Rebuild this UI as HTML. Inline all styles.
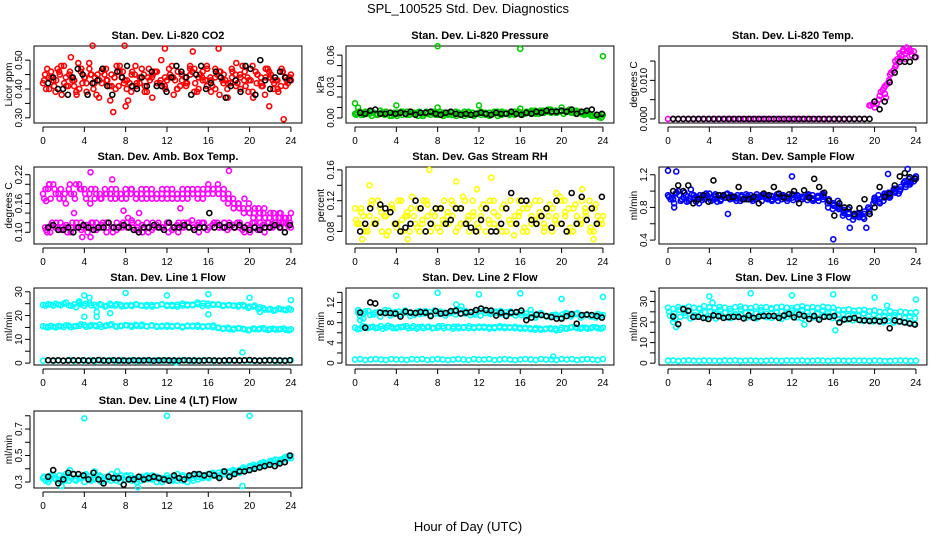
<!DOCTYPE html>
<html><head><meta charset="utf-8"><style>
body{margin:0;background:#fff}
svg{display:block;font-family:"Liberation Sans",sans-serif}
</style></head><body>
<svg id="chart" width="936" height="540" viewBox="0 0 936 540">
<text x="468" y="13" text-anchor="middle" font-size="13">SPL_100525  Std. Dev. Diagnostics</text>
<text x="468" y="531" text-anchor="middle" font-size="13">Hour of Day (UTC)</text>
</svg>
<script>
// ---------- data ----------
const xTicks=[0,4,8,12,16,20,24];
const co2A=[0.42,0.47,0.44,0.39,0.45,0.48,0.41,0.43,0.38,0.46,0.44,0.49,0.40,0.45,0.42,0.47,0.36,0.44,0.41,0.46,0.43,0.39,0.48,0.42,0.45,0.44,0.37,0.46,0.43,0.41,0.47,0.44,0.40,0.45,0.42,0.48,0.39,0.44,0.46,0.41,0.43,0.47,0.38,0.45,0.42,0.44,0.49,0.40,0.46,0.43,0.37,0.45,0.41,0.47,0.44,0.42,0.39,0.46,0.43,0.45];
const co2B=[0.45,0.40,0.43,0.47,0.38,0.44,0.46,0.41,0.49,0.42,0.39,0.45,0.44,0.37,0.47,0.43,0.45,0.40,0.48,0.42,0.36,0.46,0.41,0.44,0.39,0.47,0.45,0.42,0.50,0.40,0.44,0.38,0.46,0.43,0.41,0.45,0.47,0.40,0.43,0.48,0.39,0.44,0.46,0.42,0.37,0.47,0.41,0.45,0.43,0.39,0.48,0.42,0.44,0.38,0.46,0.40,0.43,0.47,0.41,0.44];
const co2C=[0.43,0.44,0.41,0.46,0.42,0.45,0.43,0.40,0.44,0.47,0.42,0.43,0.45,0.41,0.44,0.46,0.43,0.42,0.45,0.44,0.41,0.43,0.46,0.42,0.44,0.45,0.43,0.41,0.44,0.47,0.42,0.45,0.43,0.44,0.40,0.46,0.43,0.42,0.45,0.44,0.41,0.43,0.46,0.42,0.44,0.45,0.43,0.41,0.44,0.43];
const co2D=[0.40,0.46,0.43,0.48,0.41,0.44,0.39,0.47,0.42,0.45,0.38,0.46,0.43,0.41,0.48,0.44,0.40,0.45,0.42,0.47,0.39,0.44,0.46,0.41,0.43,0.48,0.40,0.45,0.42,0.46,0.39,0.44,0.47,0.41,0.45,0.43,0.40,0.46,0.42,0.48,0.44,0.39,0.45,0.41,0.47,0.43,0.40,0.46,0.42];
const co2OutX=[4.8,7.9,11.8,17,6.8,8,23.3,21.9,2.7,14.5];
const co2OutY=[0.55,0.55,0.54,0.54,0.32,0.34,0.295,0.34,0.51,0.53];
const co2Black=[0.42,0.44,0.40,0.40,0.38,0.44,0.47,0.45,0.38,0.42,0.43,0.47,0.41,0.38,0.46,0.44,0.48,0.41,0.40,0.44,0.41,0.46,0.41,0.41,0.39,0.44,0.48,0.46,0.44,0.38,0.45,0.48,0.40,0.42,0.46,0.44,0.37,0.41,0.43,0.39,0.48,0.47,0.38,0.50,0.43,0.40,0.44,0.46,0.44,0.43];

const presA=[0.004,0.006,0.003,0.005,0.002,0.004,0.007,0.003,0.005,0.004,0.002,0.006,0.004,0.003,0.005,0.002,0.004,0.006,0.003,0.005,0.004,0.002,0.005,0.003,0.006,0.004,0.002,0.005,0.003,0.004,0.006,0.003,0.005,0.004,0.002,0.006,0.004,0.005,0.003,0.006,0.004,0.005,0.007,0.004,0.006,0.005,0.008,0.006,0.005,0.007,0.006,0.008,0.005,0.006,0.004,0.005,0.003,0.002,0.001,0.003];
const presB=[0.005,0.003,0.006,0.004,0.005,0.003,0.004,0.006,0.002,0.005,0.004,0.006,0.003,0.005,0.004,0.006,0.002,0.004,0.005,0.003,0.006,0.004,0.003,0.005,0.002,0.004,0.006,0.003,0.005,0.004,0.003,0.005,0.002,0.004,0.006,0.003,0.005,0.004,0.006,0.005,0.003,0.006,0.005,0.007,0.004,0.007,0.006,0.005,0.007,0.006,0.004,0.007,0.006,0.004,0.006,0.003,0.004,0.002,0.003,0.000];
const presC=[0.003,0.005,0.004,0.006,0.003,0.005,0.004,0.002,0.005,0.003,0.006,0.004,0.005,0.002,0.004,0.006,0.003,0.005,0.004,0.003,0.005,0.004,0.006,0.002,0.005,0.004,0.003,0.006,0.004,0.005,0.003,0.006,0.005,0.004,0.006,0.005,0.007,0.006,0.008,0.005,0.007,0.006,0.005,0.007,0.005,0.004,0.002,0.003,0.001];
const presOutX=[0,8,16,24,4,12,8,16,20,0.3];
const presOutY=[0.014,0.0685,0.066,0.059,0.012,0.012,0.010,0.009,0.010,0.010];
const presBlack=[0.005,0.004,0.007,0.008,0.004,0.004,0.005,0.004,0.005,0.004,0.006,0.003,0.005,0.005,0.006,0.004,0.003,0.005,0.006,0.004,0.003,0.004,0.003,0.004,0.005,0.004,0.003,0.005,0.004,0.004,0.006,0.004,0.003,0.005,0.004,0.006,0.005,0.007,0.006,0.006,0.007,0.006,0.008,0.004,0.006,0.007,0.008,0.003,0.004];

const ltempA=[0,0,0,0,0,0,0,0,0,0,0,0,0,0,0,0,0,0,0,0,0,0,0,0,0,0,0,0,0,0,0,0,0,0,0,0,0,0,0,0.0035,0.0045,0.006,0.0085,0.0115,0.0135,0.0155,0.017,0.0175,0.016];
const ltempRampX=[19.6,19.8,20.0,20.2,20.4,20.6,20.8,21.0,21.2,21.4,21.6,21.8,22.0,22.2,22.4,22.6,22.8,23.0,23.2,23.4,23.6,23.8,21.1,22.1,20.9,23.1,22.7];
const ltempRampY=[0.0035,0.0038,0.003,0.004,0.005,0.007,0.0075,0.0065,0.009,0.01,0.012,0.0125,0.015,0.0155,0.017,0.0165,0.018,0.0155,0.0175,0.018,0.0165,0.0175,0.0055,0.014,0.008,0.0185,0.0175];
const ltempBlack=[0,0,0,0,0,0,0,0,0,0,0,0,0,0,0,0,0,0,0,0,0,0,0,0,0,0,0,0,0,0,0,0,0,0,0,0,0,0,0,0,0.0045,0.0025,0.0045,0.0095,0.012,0.0148,0.0148,0.0148,0.016];

const ambUpA=[0.18,0.19,0.20,0.18,0.17,0.19,0.18,0.20,0.19,0.18,0.17,0.18,0.19,0.18,0.17,0.18,0.19,0.18,0.17,0.18,0.19,0.18,0.17,0.18,0.18,0.19,0.17,0.18,0.19,0.18,0.18,0.19,0.20,0.19,0.18,0.19,0.17,0.16,0.15,0.17,0.14,0.15,0.14,0.13,0.14,0.13,0.14,0.13,0.14];
const ambUpB=[0.19,0.17,0.18,0.19,0.16,0.18,0.20,0.19,0.17,0.19,0.18,0.17,0.18,0.19,0.18,0.17,0.18,0.19,0.18,0.17,0.18,0.17,0.18,0.19,0.17,0.18,0.18,0.17,0.18,0.19,0.17,0.18,0.19,0.18,0.20,0.18,0.16,0.17,0.16,0.15,0.15,0.13,0.15,0.14,0.12,0.14,0.13,0.12,0.13];
const ambUpC=[0.17,0.20,0.19,0.17,0.18,0.20,0.17,0.19,0.18,0.16,0.19,0.17,0.18,0.17,0.19,0.18,0.17,0.19,0.18,0.19,0.17,0.19,0.18,0.17,0.19,0.17,0.18,0.19,0.17,0.18,0.19,0.17,0.18,0.19,0.19,0.17,0.18,0.15,0.16,0.14,0.16,0.14,0.13,0.15,0.13,0.12,0.14,0.13,0.12];
const ambLowA=[0.11,0.10,0.11,0.12,0.11,0.10,0.11,0.12,0.11,0.11,0.12,0.11,0.10,0.11,0.12,0.11,0.11,0.12,0.11,0.10,0.11,0.12,0.11,0.11,0.12,0.11,0.10,0.12,0.11,0.11,0.12,0.12,0.11,0.12,0.11,0.12,0.11,0.11,0.12,0.11,0.10,0.11,0.12,0.11,0.11,0.12,0.11,0.12,0.11];
const ambLowB=[0.10,0.12,0.11,0.11,0.10,0.12,0.11,0.11,0.10,0.12,0.11,0.12,0.11,0.10,0.11,0.12,0.13,0.11,0.12,0.11,0.10,0.11,0.12,0.11,0.10,0.11,0.12,0.11,0.12,0.11,0.10,0.11,0.11,0.12,0.11,0.12,0.12,0.11,0.11,0.10,0.11,0.12,0.11,0.10,0.11,0.12,0.11,0.11,0.12];
const ambLowC=[0.105,0.115,0.12,0.105,0.115,0.11,0.12,0.105,0.115,0.12,0.105,0.115,0.12,0.11,0.105,0.115,0.12,0.125,0.105,0.115,0.12,0.105,0.115,0.11,0.12,0.105,0.115,0.11,0.12,0.125,0.115,0.12,0.105,0.115,0.12,0.11,0.105,0.115,0.12,0.105,0.115,0.12,0.105,0.115,0.12,0.11,0.115,0.12,0.115];
const ambOutX=[4.6,18,7.8,3,0.3,0.6,3.8,4.6,6.7,13.3,9.3];
const ambOutY=[0.225,0.228,0.145,0.14,0.165,0.20,0.09,0.09,0.21,0.15,0.14];
const ambBlack=[0.11,0.115,0.105,0.105,0.11,0.10,0.11,0.115,0.11,0.105,0.11,0.11,0.12,0.11,0.11,0.115,0.11,0.105,0.10,0.11,0.11,0.115,0.11,0.105,0.12,0.11,0.11,0.115,0.11,0.105,0.11,0.11,0.14,0.11,0.115,0.11,0.115,0.11,0.115,0.11,0.105,0.11,0.105,0.11,0.11,0.115,0.11,0.10,0.115];

const rhA=[0.11,0.09,0.10,0.08,0.12,0.09,0.11,0.10,0.08,0.11,0.09,0.12,0.10,0.08,0.10,0.11,0.09,0.12,0.08,0.10,0.11,0.09,0.10,0.12,0.08,0.11,0.09,0.10,0.12,0.08,0.10,0.11,0.09,0.12,0.10,0.08,0.11,0.09,0.10,0.12,0.08,0.11,0.10,0.09,0.12,0.08,0.10,0.11,0.09,0.12,0.10,0.08,0.11,0.09,0.12,0.10,0.08,0.11,0.09,0.10];
const rhB=[0.09,0.11,0.08,0.10,0.09,0.12,0.08,0.10,0.11,0.09,0.12,0.08,0.10,0.11,0.09,0.08,0.12,0.10,0.09,0.11,0.08,0.12,0.09,0.10,0.11,0.09,0.12,0.08,0.10,0.09,0.11,0.08,0.12,0.09,0.10,0.11,0.08,0.12,0.09,0.10,0.11,0.08,0.09,0.12,0.10,0.09,0.11,0.08,0.10,0.09,0.12,0.11,0.08,0.10,0.09,0.11,0.12,0.08,0.10,0.09];
const rhC=[0.095,0.105,0.085,0.115,0.095,0.105,0.075,0.115,0.085,0.095,0.105,0.125,0.085,0.095,0.115,0.105,0.085,0.095,0.105,0.115,0.085,0.125,0.095,0.105,0.085,0.115,0.095,0.105,0.085,0.115,0.095,0.075,0.105,0.085,0.115,0.095,0.105,0.085,0.115,0.095,0.125,0.105,0.085,0.115,0.095,0.105,0.085,0.115,0.095];
const rhOutX=[7.2,1.4,9.8,13.2,5.1,0.7,23.1,22,11.8,19.5];
const rhOutY=[0.16,0.14,0.145,0.15,0.07,0.07,0.07,0.135,0.135,0.13];
const rhBlack=[0.08,0.09,0.11,0.09,0.115,0.11,0.105,0.09,0.08,0.085,0.09,0.12,0.11,0.08,0.09,0.11,0.11,0.09,0.095,0.11,0.11,0.09,0.085,0.08,0.095,0.11,0.08,0.08,0.09,0.11,0.13,0.09,0.12,0.12,0.095,0.09,0.10,0.11,0.085,0.12,0.09,0.08,0.13,0.09,0.125,0.095,0.11,0.09,0.125];

const flowA=[0.95,0.90,1.00,0.92,0.88,0.95,0.85,0.93,0.97,0.90,0.95,0.92,0.90,0.93,0.88,0.92,0.95,0.90,0.93,0.91,0.94,0.92,0.90,0.93,0.95,0.92,0.90,0.93,0.91,0.94,0.90,0.80,0.85,0.82,0.75,0.72,0.70,0.68,0.72,0.75,0.88,0.90,0.92,0.95,0.98,1.02,1.05,1.10,1.15];
const flowB=[0.90,0.97,0.88,0.95,1.02,0.87,0.92,0.97,0.88,0.94,0.90,0.96,0.93,0.88,0.95,0.90,0.92,0.96,0.88,0.94,0.90,0.96,0.93,0.88,0.92,0.95,0.93,0.89,0.95,0.92,0.97,0.85,0.78,0.88,0.70,0.78,0.65,0.73,0.68,0.80,0.85,0.95,0.88,0.98,1.02,0.97,1.10,1.15,1.12];
const flowC=[0.93,0.85,0.95,0.98,0.90,0.92,0.95,0.90,0.92,0.96,0.88,0.92,0.95,0.91,0.93,0.96,0.90,0.93,0.95,0.92,0.88,0.93,0.95,0.91,0.96,0.90,0.93,0.95,0.88,0.92,0.93,0.88,0.82,0.78,0.73,0.68,0.72,0.70,0.75,0.72,0.92,0.85,0.95,0.93,1.00,1.05,1.08,1.12,1.18];
const flowD=[0.92,0.98,0.90,0.87,0.96,0.93,0.89,0.95,0.91,0.87,0.93,0.97,0.91,0.95,0.90,0.94,0.88,0.92,0.96,0.90,0.93,0.88,0.95,0.91,0.89,0.94,0.92,0.96,0.90,0.88,0.95,0.90,0.83,0.80,0.77,0.74,0.69,0.72,0.66,0.78,0.90,0.87,0.97,0.92,1.03,1.00,1.12,1.08,1.16];
const flowOutX=[0,0.8,12,21.3,16,5.8,17.6,19.2,23.2,0.6];
const flowOutY=[1.25,1.24,1.18,1.21,0.41,0.72,0.55,0.55,1.27,0.8];
const flowBlack=[1.0,1.07,1.0,1.07,0.85,0.9,0.95,0.87,1.13,0.95,0.95,0.92,0.93,1.05,0.9,0.9,0.93,0.85,0.97,0.95,1.05,0.97,0.92,0.96,1.0,0.85,1.01,0.92,1.15,1.05,0.98,0.88,0.7,0.85,0.8,0.8,0.72,0.79,0.9,0.72,0.8,1.05,0.93,0.97,1.07,1.18,1.22,1.17,1.15];

const l1TopA=[24.5,24.8,24.2,24.6,25.0,24.3,24.7,25.3,24.1,25.2,24.5,24.8,23.8,25.0,24.2,24.6,24.0,24.4,24.8,24.2,23.9,24.5,24.3,24.7,24.0,24.5,23.8,24.2,24.6,24.3,24.8,25.1,24.2,24.5,24.7,24.3,24.5,24.2,24.4,24.0,23.8,24.2,23.5,22.5,22.8,22.3,22.7,22.2,22.5];
const l1TopB=[24.2,24.6,25.0,24.3,25.5,24.1,23.5,24.8,25.0,24.3,23.8,24.5,24.0,24.4,24.8,23.9,24.3,24.0,24.6,24.1,24.5,23.8,24.2,24.8,24.4,24.0,24.6,25.0,24.2,24.6,25.5,24.0,25.0,24.8,24.6,24.0,24.3,24.1,23.8,24.5,23.2,23.8,22.8,23.1,22.5,22.0,23.0,22.5,23.0];
const l1MidA=[15.5,15.0,15.3,15.6,15.2,15.8,15.4,15.7,16.0,15.5,15.8,16.2,15.6,15.9,15.5,15.7,16.0,15.8,16.1,15.6,15.5,15.9,15.6,15.4,15.3,15.6,15.8,15.4,15.5,15.7,15.3,15.5,15.6,15.8,15.0,14.6,14.3,14.5,14.7,14.2,14.0,14.3,14.5,14.2,14.4,14.1,14.3,14.0,14.2];
const l1MidB=[15.2,15.7,15.0,15.4,15.9,15.1,15.6,16.3,15.3,16.0,15.5,15.2,15.9,16.4,15.3,15.6,15.9,15.3,15.7,16.2,15.4,15.8,15.2,15.7,15.9,15.3,15.6,15.0,15.8,15.4,15.9,15.2,15.4,15.1,14.8,14.4,14.9,14.1,14.6,14.4,13.8,14.6,14.2,14.7,13.9,14.5,14.2,14.6,13.8];
const l1Low=[1.0,1.2,0.9,1.1,1.0,1.3,0.9,1.1,1.0,1.2,0.8,1.1,1.0,1.2,0.9,1.1,1.0,1.2,0.9,1.0,1.1,0.9,1.2,1.0,1.1,0.9,1.0,1.2,1.1,0.9,1.0,1.1,1.2,0.9,1.0,1.1,0.9,1.2,1.0,1.1,1.0,0.9,1.1,1.2,1.0,0.9,1.1,1.0,1.2];
const l1OutX=[4,4.5,8,12,16,20,24,4,5.2,5.2,6.5,16,19.3,12.9,21,3.5];
const l1OutY=[28.5,27.5,29.5,28.5,29,27.5,26.5,19.5,21.5,19.5,21,20.5,4.5,0.3,21.5,26];
const l1Black=[1.2,1.1,1.2,1.0,1.1,1.2,1.1,1.2,1.0,1.1,1.3,1.1,1.0,1.2,1.1,1.1,1.0,1.2,1.1,1.1,1.2,1.0,1.1,1.2,1.1,1.1,1.0,1.2,1.1,1.1,1.0,1.1,1.2,1.1,1.0,1.1,1.2,1.1,1.1,1.2,1.3,1.1,1.0,1.1,1.2,1.1,1.1,1.0,1.2];

const l2TopA=[10.0,9.8,10.3,9.6,10.1,9.9,10.4,9.7,10.2,9.9,10.0,9.5,10.3,9.8,10.1,10.4,9.7,10.0,9.9,10.2,10.5,9.8,10.1,9.6,10.3,9.9,10.0,10.2,9.7,10.1,9.8,10.0,9.5,9.8,9.6,9.4,9.7,9.2,9.5,9.3,9.6,9.8,9.5,9.9,9.3,9.6,9.4,9.7,9.5];
const l2TopB=[9.3,10.2,9.5,10.0,9.2,10.5,9.4,10.1,9.6,10.4,9.3,10.0,9.7,10.3,9.5,9.8,10.2,9.4,10.1,9.6,9.8,10.3,9.5,10.0,9.4,10.4,9.7,9.9,10.3,9.5,10.2,9.4,10.0,9.2,9.7,9.0,9.9,9.3,9.1,9.6,9.0,9.9,9.2,9.7,9.0,9.5,9.2,9.0,9.4];
const l2Mid=[7.0,6.8,7.2,7.1,6.9,7.3,7.0,7.2,6.9,7.1,7.3,7.0,6.8,7.2,7.1,6.9,7.0,7.3,7.1,6.8,7.2,7.0,6.9,7.1,7.2,7.0,6.8,7.1,7.3,6.9,7.0,7.2,6.8,7.0,6.7,6.9,6.6,6.8,6.7,6.5,7.0,6.8,7.1,6.9,7.0,6.8,7.1,6.9,7.0];
const l2MidB=[6.7,7.3,6.9,7.2,7.0,6.8,7.4,6.9,7.1,7.2,6.9,7.3,7.1,6.9,7.2,7.0,7.3,6.9,7.1,7.2,6.9,7.1,7.3,6.9,7.0,7.2,7.1,6.9,7.0,7.2,7.1,6.9,7.0,6.8,6.9,6.6,6.8,6.7,6.9,6.8,6.6,6.9,7.0,7.1,6.8,7.0,6.9,7.1,6.8];
const l2Low=[0.7,0.8,0.6,0.7,0.8,0.7,0.6,0.8,0.7,0.7,0.6,0.8,0.7,0.8,0.6,0.7,0.8,0.7,0.6,0.7,0.8,0.7,0.6,0.8,0.7,0.7,0.8,0.6,0.7,0.8,0.7,0.6,0.7,0.8,0.7,0.6,0.8,0.7,0.7,0.6,0.8,0.7,0.8,0.6,0.7,0.8,0.7,0.6,0.8];
const l2OutX=[4,8,12,16,20,24,0.3,0.5,19.2,9.8,10.3,17,0.8];
const l2OutY=[13.3,13.9,13.6,13.8,12.7,13.1,10.5,8.5,1.3,11.6,11.2,10.5,8.8];
const l2Black=[10.0,7.0,12.0,11.8,10.0,9.9,9.9,9.8,9.2,10.2,10.0,9.9,10.1,10.0,9.3,10.3,9.8,9.9,10.3,10.4,9.8,10.0,10.1,10.5,10.8,10.5,10.4,9.4,10.0,9.3,10.0,10.1,10.4,8.5,9.0,9.6,9.5,9.3,9.1,8.8,8.8,9.3,9.7,7.8,9.5,9.6,9.5,9.3,9.0];

const l3TopA=[27.0,26.5,27.3,26.8,27.5,27.0,26.6,27.8,27.2,26.9,27.4,27.0,26.5,27.3,27.6,27.0,26.8,27.5,27.1,27.3,26.7,27.2,27.5,27.0,26.8,27.4,27.7,27.0,27.3,26.9,27.5,27.2,27.0,26.0,25.8,26.2,25.5,25.8,26.0,25.3,25.6,25.0,24.8,25.3,24.6,25.1,24.8,24.5,24.8];
const l3MidA=[23.0,21.5,22.5,23.2,21.8,22.6,23.5,22.0,22.8,21.7,23.0,22.3,21.9,22.7,23.3,22.1,22.5,21.8,23.0,22.4,22.0,22.8,21.6,22.5,23.1,22.2,21.8,22.9,22.3,21.7,22.6,23.0,22.0,21.5,21.0,21.3,20.8,21.2,20.5,21.0,20.3,20.8,20.0,20.5,19.8,20.3,20.0,19.5,19.2];
const l3MidB=[25.0,24.0,26.0,24.5,25.5,23.5,26.5,24.8,25.2,24.0,26.0,24.6,25.4,23.8,26.2,24.5,25.0,24.2,25.8,24.0,26.3,24.7,25.1,23.9,25.7,24.4,26.0,24.8,25.3,24.1,25.6,24.3,25.0,23.5,24.0,23.2,23.8,23.0,24.2,22.8,23.5,22.5,23.0,22.2,23.4,22.6,22.0,22.8,21.8];
const l3Low=[1.2,1.3,1.1,1.2,1.4,1.2,1.1,1.3,1.2,1.2,1.1,1.3,1.2,1.4,1.1,1.2,1.3,1.2,1.1,1.2,1.3,1.2,1.1,1.3,1.2,1.2,1.3,1.1,1.2,1.3,1.2,1.1,1.2,1.3,1.2,1.1,1.3,1.2,1.2,1.1,1.3,1.2,1.0,1.1,1.2,1.3,1.2,1.1,1.2];
const l3OutX=[4,8,12,16,20,24,0.5,0.8,16.2,13.2,4.3,21.2];
const l3OutY=[32.5,34,33,33.5,32,31,20,17.5,16,18.8,29.5,28];
const l3Black=[22.7,19,26.3,25.5,22.5,22.6,22,21.5,23.3,22.9,22,22.4,22.6,22.5,21.8,23.3,22,22.7,23,23,23,22,23.2,24,22.3,23.7,23,21.5,23,21.2,22.6,22.5,23,19.8,21.3,21.6,22,21,20.8,20.5,20.8,20.3,20.8,17,20.8,20.3,19.8,19.3,18.8];

const l4A=[0.33,0.30,0.35,0.32,0.34,0.31,0.36,0.33,0.30,0.34,0.32,0.35,0.31,0.33,0.34,0.30,0.32,0.35,0.33,0.31,0.34,0.32,0.30,0.33,0.35,0.32,0.31,0.34,0.33,0.35,0.32,0.34,0.36,0.35,0.37,0.36,0.38,0.37,0.39,0.40,0.41,0.42,0.43,0.44,0.45,0.44,0.46,0.47,0.48];
const l4B=[0.31,0.35,0.32,0.30,0.36,0.33,0.31,0.34,0.36,0.31,0.35,0.30,0.34,0.36,0.31,0.33,0.35,0.31,0.30,0.34,0.32,0.35,0.33,0.30,0.32,0.34,0.36,0.31,0.30,0.33,0.36,0.33,0.34,0.37,0.34,0.38,0.35,0.39,0.38,0.41,0.39,0.43,0.42,0.45,0.43,0.46,0.45,0.48,0.49];
const l4C=[0.34,0.32,0.33,0.35,0.31,0.34,0.32,0.33,0.35,0.32,0.33,0.34,0.32,0.31,0.33,0.35,0.34,0.33,0.32,0.33,0.35,0.33,0.34,0.32,0.33,0.31,0.33,0.35,0.34,0.31,0.34,0.35,0.33,0.36,0.35,0.36,0.37,0.38,0.37,0.39,0.42,0.41,0.44,0.43,0.46,0.47,0.47,0.49,0.50];
const l4OutX=[4,12,20,1.8,2.6,19.3,9.2,5,7.2];
const l4OutY=[0.78,0.80,0.80,0.27,0.39,0.27,0.26,0.38,0.38];
const l4Black=[0.34,0.39,0.29,0.32,0.37,0.36,0.36,0.35,0.32,0.37,0.32,0.29,0.34,0.33,0.33,0.28,0.32,0.32,0.34,0.32,0.33,0.34,0.33,0.32,0.31,0.35,0.33,0.32,0.35,0.36,0.36,0.35,0.36,0.35,0.33,0.38,0.34,0.36,0.38,0.38,0.39,0.40,0.41,0.42,0.43,0.42,0.44,0.45,0.50];

// ---------- layout ----------
const colX0=[43,355,668], unit=10.33, rowTop=[46,167,288,411], boxH=77;
const panels=[
 {name:'co2',col:0,row:0,title:'Stan. Dev. Li-820 CO2',ylab:'Licor ppm',y0:0.282,y1:0.549,ticks:[0.30,0.35,0.40,0.45,0.50],labels:['0.30','','0.40','','0.50']},
 {name:'pressure',col:1,row:0,title:'Stan. Dev. Li-820 Pressure',ylab:'kPa',y0:-0.0048,y1:0.0687,ticks:[0,0.01,0.02,0.03,0.04,0.05,0.06],labels:['0.00','','','0.03','','','0.06']},
 {name:'li820-temp',col:2,row:0,title:'Stan. Dev. Li-820 Temp.',ylab:'degrees C',y0:-0.00105,y1:0.0189,ticks:[0,0.005,0.010,0.015],labels:['0.000','','0.010','']},
 {name:'amb-box-temp',col:0,row:1,title:'Stan. Dev. Amb. Box Temp.',ylab:'degrees C',y0:0.0756,y1:0.236,ticks:[0.10,0.12,0.14,0.16,0.18,0.20,0.22],labels:['0.10','','','0.16','','','0.22']},
 {name:'gas-rh',col:1,row:1,title:'Stan. Dev. Gas Stream RH',ylab:'percent',y0:0.0637,y1:0.1638,ticks:[0.08,0.10,0.12,0.14,0.16],labels:['0.08','','0.12','','0.16']},
 {name:'sample-flow',col:2,row:1,title:'Stan. Dev. Sample Flow',ylab:'ml/min',y0:0.352,y1:1.295,ticks:[0.4,0.6,0.8,1.0,1.2],labels:['0.4','','0.8','','1.2']},
 {name:'line1-flow',col:0,row:2,title:'Stan. Dev. Line 1 Flow',ylab:'ml/min',y0:-0.8,y1:31.6,ticks:[0,5,10,15,20,25,30],labels:['0','','10','','20','','30']},
 {name:'line2-flow',col:1,row:2,title:'Stan. Dev. Line 2 Flow',ylab:'ml/min',y0:-0.38,y1:14.86,ticks:[0,2,4,6,8,10,12,14],labels:['0','','4','','8','','12','']},
 {name:'line3-flow',col:2,row:2,title:'Stan. Dev. Line 3 Flow',ylab:'ml/min',y0:-0.9,y1:36.6,ticks:[0,5,10,15,20,25,30,35],labels:['0','','10','','20','','30','']},
 {name:'line4-flow',col:0,row:3,title:'Stan. Dev. Line 4 (LT) Flow',ylab:'ml/min',y0:0.255,y1:0.836,ticks:[0.3,0.4,0.5,0.6,0.7,0.8],labels:['0.3','','0.5','','0.7','']}
];
const RED='#ff0000',GRN='#00cd00',MAG='#ff00ff',YEL='#ffff00',BLU='#0000ff',CYN='#00ffff',BLK='#000000';
const series=[
 [0,co2A,RED,0,24],[0,co2B,RED,0.2,23.9],[0,co2C,RED,0.1,24],[0,co2D,RED,0.3,23.7],
 [1,presA,GRN,0,24],[1,presB,GRN,0.2,23.8],[1,presC,GRN,0.1,23.9],
 [2,ltempA,MAG,0,24],
 [3,ambUpA,MAG,0,24],[3,ambUpB,MAG,0.25,23.8],[3,ambUpC,MAG,0.12,23.9],[3,ambLowA,MAG,0.2,24],[3,ambLowB,MAG,0.4,23.9],[3,ambLowC,MAG,0.3,23.7],
 [4,rhA,YEL,0,24],[4,rhB,YEL,0.2,23.9],[4,rhC,YEL,0.1,23.8],
 [5,flowA,BLU,0,24],[5,flowB,BLU,0.25,23.8],[5,flowC,BLU,0.1,24],[5,flowD,BLU,0.35,23.9],
 [6,l1TopA,CYN,0,24],[6,l1TopB,CYN,0.25,23.8],[6,l1MidA,CYN,0,24],[6,l1MidB,CYN,0.25,23.8],[6,l1Low,CYN,0,24],
 [7,l2TopA,CYN,0.3,24],[7,l2TopB,CYN,0.5,23.8],[7,l2Mid,CYN,0,24],[7,l2MidB,CYN,0.25,23.8],[7,l2Low,CYN,0,24],
 [8,l3TopA,CYN,0,24],[8,l3MidA,CYN,0.2,23.8],[8,l3MidB,CYN,0.1,23.9],[8,l3Low,CYN,0,24],
 [9,l4A,CYN,0,24],[9,l4B,CYN,0.25,23.8],[9,l4C,CYN,0.1,24]
];
const scatter=[[0,co2OutX,co2OutY,RED],[1,presOutX,presOutY,GRN],[2,ltempRampX,ltempRampY,MAG],[3,ambOutX,ambOutY,MAG],[4,rhOutX,rhOutY,YEL],[5,flowOutX,flowOutY,BLU],[6,l1OutX,l1OutY,CYN],[7,l2OutX,l2OutY,CYN],[8,l3OutX,l3OutY,CYN],[9,l4OutX,l4OutY,CYN]];
const blacks=[[0,co2Black],[1,presBlack],[2,ltempBlack],[3,ambBlack],[4,rhBlack],[5,flowBlack],[6,l1Black],[7,l2Black],[8,l3Black],[9,l4Black]];

// ---------- drawing ----------
const NS='http://www.w3.org/2000/svg', svg=document.getElementById('chart');
function mk(tag,attrs,parent){const e=document.createElementNS(NS,tag);for(const k in attrs)e.setAttribute(k,attrs[k]);(parent||svg).appendChild(e);return e;}
function xs(p,v){return colX0[p.col]+v*unit;}
function ys(p,v){const t=rowTop[p.row];return t+boxH-(v-p.y0)/(p.y1-p.y0)*boxH;}
const groups=[];
panels.forEach((p,i)=>{
 const g=mk('g',{});
 
 
 groups.push(g);
 const L=colX0[p.col]-9, R=colX0[p.col]+24*unit+11, T=rowTop[p.row], B=T+boxH;
 const box=mk('rect',{x:L,y:T,width:R-L,height:boxH,fill:'none',stroke:'#000','stroke-width':1},g);
 
 
 const tt=mk('text',{x:(L+R)/2,y:T-7,'text-anchor':'middle','font-size':11,'font-weight':'bold'},g);
 tt.textContent=p.title;
 
 
 const yl=mk('text',{x:0,y:0,'text-anchor':'middle','font-size':10,transform:`translate(${L-22},${(T+B)/2}) rotate(-90)`},g);
 yl.textContent=p.ylab;
 
 
 mk('line',{x1:xs(p,xTicks[0]),x2:xs(p,xTicks[xTicks.length-1]),y1:B+4,y2:B+4,stroke:'#000'},g);
 xTicks.forEach(v=>{
  mk('line',{x1:xs(p,v),x2:xs(p,v),y1:B+4,y2:B+9,stroke:'#000'},g);
  const t=mk('text',{x:xs(p,v),y:B+21,'text-anchor':'middle','font-size':10},g);
  t.textContent=v;
  
  
 });
 mk('line',{x1:L-4,x2:L-4,y1:ys(p,p.ticks[0]),y2:ys(p,p.ticks[p.ticks.length-1]),stroke:'#000'},g);
 p.ticks.forEach((v,k)=>{
  if(ys(p,v)<T-1)return;
  mk('line',{x1:L-9,x2:L-4,y1:ys(p,v),y2:ys(p,v),stroke:'#000'},g);
  if(p.labels[k]){
   const t=mk('text',{x:0,y:0,'text-anchor':'middle','font-size':10,transform:`translate(${L-12},${ys(p,v)}) rotate(-90)`},g);
   t.textContent=p.labels[k];
   
   
  }
 });
});
function dot(pi,x,y,color,r){
 const p=panels[pi];
 const c=mk('circle',{cx:xs(p,x),cy:ys(p,y),r:r,fill:'none',stroke:color,'stroke-width':1.6},groups[pi]);
 
 
}
series.forEach(s=>{const [pi,vals,col,a,b]=s;const n=vals.length;vals.forEach((v,i)=>dot(pi,a+(b-a)*i/(n-1),v,col,2.5));});
scatter.forEach(s=>{const [pi,X,Y,col]=s;X.forEach((x,i)=>dot(pi,x,Y[i],col,2.5));});
blacks.forEach(s=>{const [pi,vals]=s;const n=vals.length;vals.forEach((v,i)=>dot(pi,0.5+23.4*i/(n-1),v,BLK,2.5));});
</script>
</body></html>
